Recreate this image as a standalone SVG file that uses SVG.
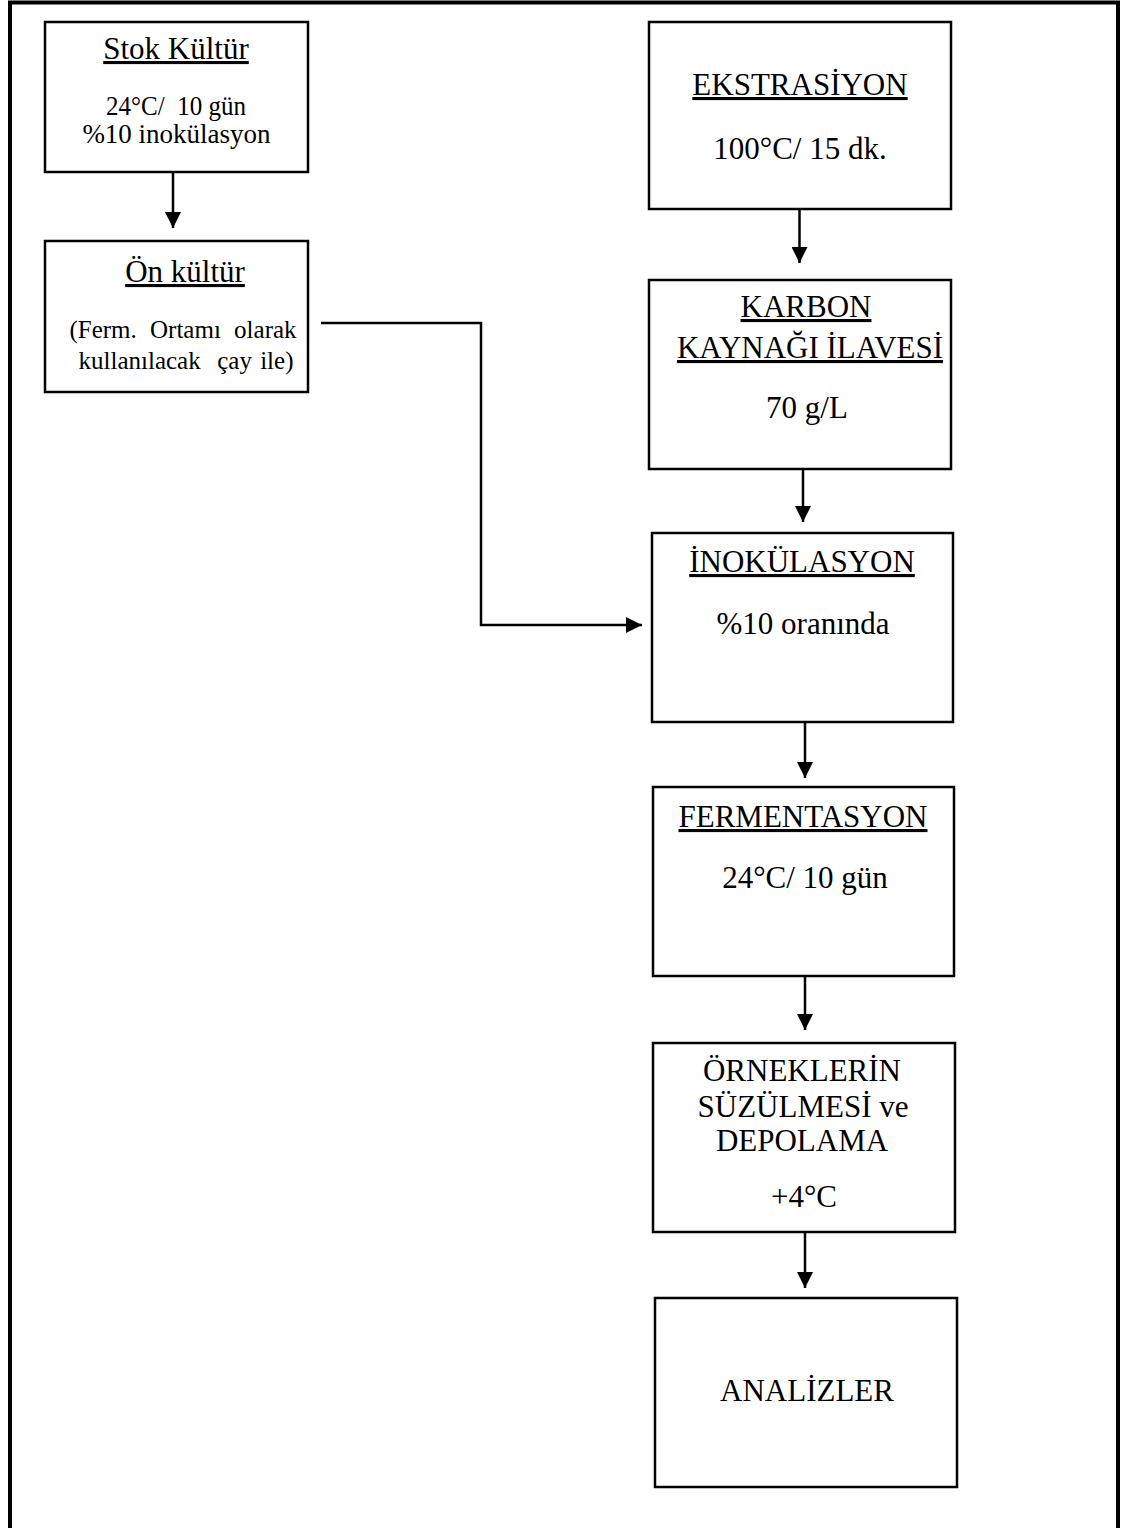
<svg xmlns="http://www.w3.org/2000/svg" width="1125" height="1528" viewBox="0 0 1125 1528">
<defs>
<style>
.box{fill:#fff;stroke:#000;stroke-width:2.5}
.t{font-family:"Liberation Serif","Times New Roman",serif;fill:#000;text-anchor:middle;white-space:pre}
.h{font-size:31px;text-decoration:underline}
.b{font-size:31px}
.s{font-size:27px}
.p{font-size:25px}
.c{fill:none;stroke:#000;stroke-width:2.5}
</style>
<marker id="ah" viewBox="0 0 16 16" markerWidth="16" markerHeight="16" refX="16" refY="8" orient="auto" markerUnits="userSpaceOnUse">
<path d="M0,0 L16,8 L0,16 Z" fill="#000"/>
</marker>
</defs>
<rect width="1125" height="1528" fill="#fff"/>
<rect x="10" y="2.5" width="1108" height="1545" fill="none" stroke="#000" stroke-width="4"/>

<g id="stok">
<rect class="box" x="45" y="22" width="263" height="150"/>
<text class="t h" x="176" y="59">Stok Kültür</text>
<text class="t s" x="176" y="115" textLength="140" lengthAdjust="spacingAndGlyphs" xml:space="preserve">24°C/  10 gün</text>
<text class="t s" x="176.5" y="143">%10 inokülasyon</text>
</g>
<g id="onkultur">
<rect class="box" x="45" y="241" width="263" height="151"/>
<text class="t h" x="185" y="282">Ön kültür</text>
<text class="t p" x="183" y="338" word-spacing="7">(Ferm. Ortamı olarak</text>
<text class="t p" x="186" y="369" word-spacing="2" xml:space="preserve">kullanılacak  çay ile)</text>
</g>
<g id="ekstrasiyon">
<rect class="box" x="649" y="22" width="302" height="187"/>
<text class="t h" x="800" y="95">EKSTRASİYON</text>
<text class="t b" x="800" y="159">100°C/ 15 dk.</text>
</g>
<g id="karbon">
<rect class="box" x="649" y="280" width="302" height="189"/>
<text class="t h" x="806" y="317">KARBON</text>
<text class="t h" x="810" y="358">KAYNAĞI İLAVESİ</text>
<text class="t b" x="807" y="418">70 g/L</text>
</g>
<g id="inokulasyon">
<rect class="box" x="652" y="533" width="301" height="189"/>
<text class="t h" x="802" y="572">İNOKÜLASYON</text>
<text class="t b" x="803" y="634">%10 oranında</text>
</g>
<g id="fermentasyon">
<rect class="box" x="653" y="787" width="301" height="189"/>
<text class="t h" x="803" y="827">FERMENTASYON</text>
<text class="t b" x="805" y="888">24°C/ 10 gün</text>
</g>
<g id="ornekler">
<rect class="box" x="653" y="1043" width="302" height="189"/>
<text class="t b" x="802" y="1081">ÖRNEKLERİN</text>
<text class="t b" x="803" y="1117">SÜZÜLMESİ ve</text>
<text class="t b" x="802" y="1151">DEPOLAMA</text>
<text class="t b" x="804" y="1207">+4°C</text>
</g>
<g id="analizler">
<rect class="box" x="655" y="1298" width="302" height="189"/>
<text class="t b" x="807" y="1401">ANALİZLER</text>
</g>

<g id="connectors">
<line class="c" x1="173" y1="172" x2="173" y2="228" marker-end="url(#ah)"/>
<line class="c" x1="799.5" y1="209" x2="799.5" y2="263" marker-end="url(#ah)"/>
<line class="c" x1="803" y1="469" x2="803" y2="522" marker-end="url(#ah)"/>
<line class="c" x1="805" y1="722" x2="805" y2="778" marker-end="url(#ah)"/>
<line class="c" x1="805" y1="976" x2="805" y2="1030" marker-end="url(#ah)"/>
<line class="c" x1="805" y1="1232" x2="805" y2="1288" marker-end="url(#ah)"/>
<polyline class="c" points="321,323 481,323 481,625 642,625" marker-end="url(#ah)"/>
</g>
</svg>
